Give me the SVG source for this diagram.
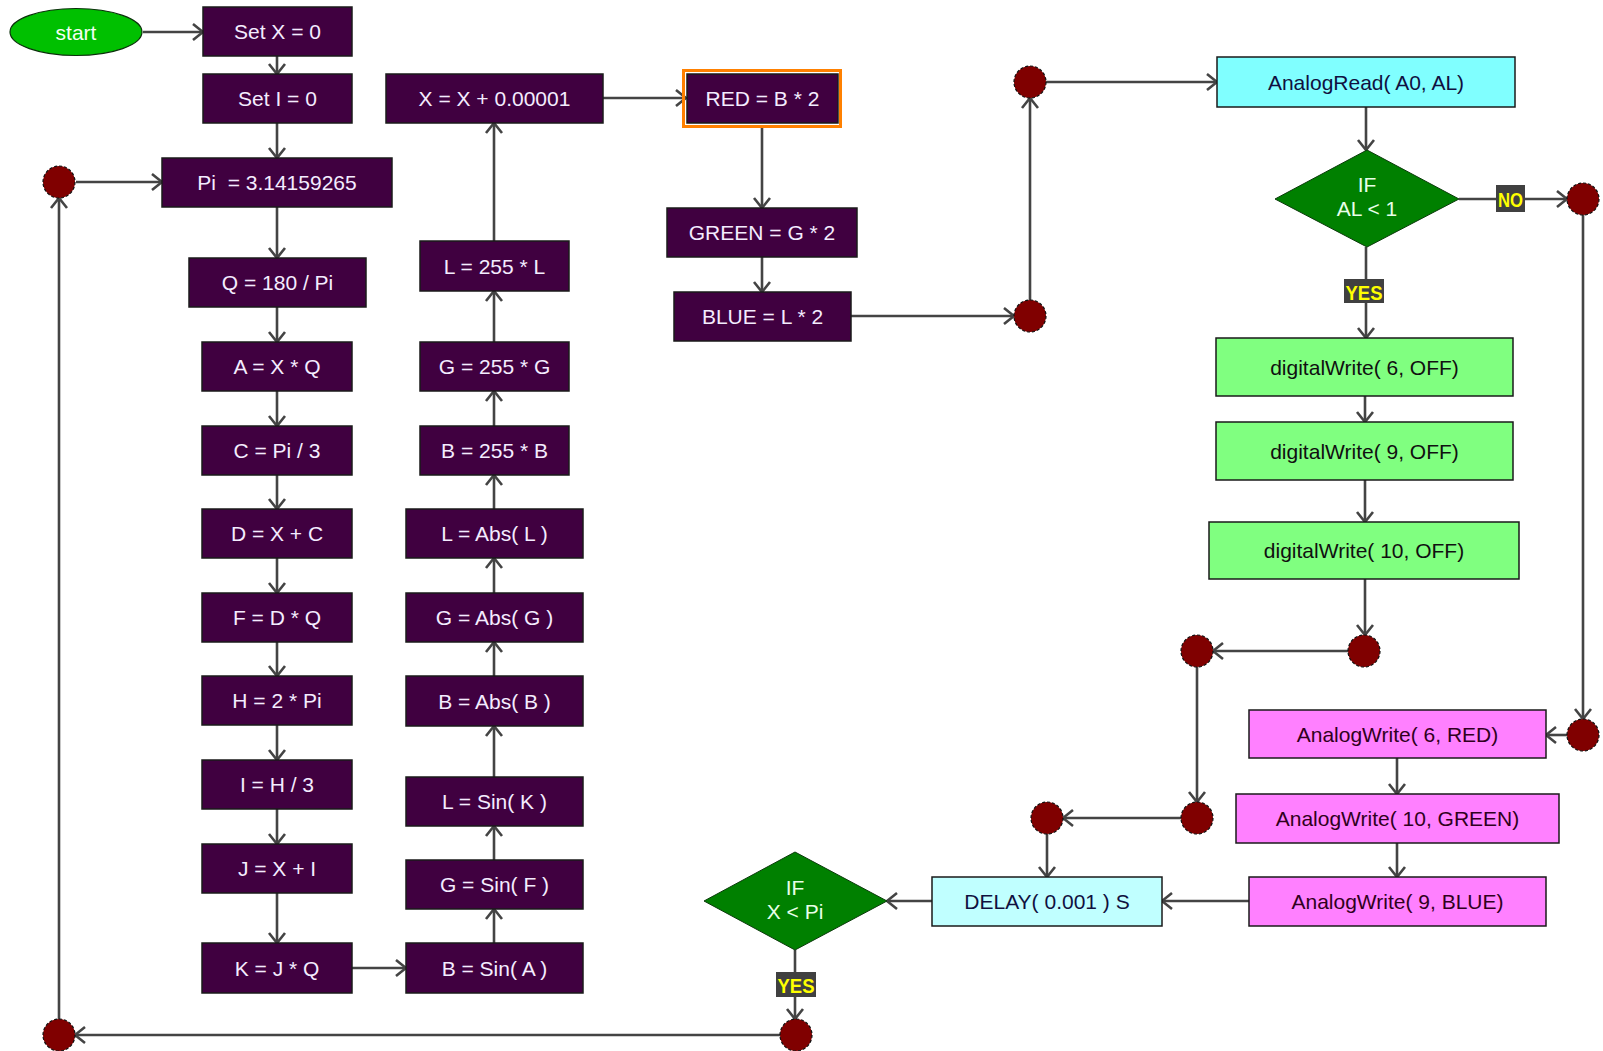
<svg xmlns="http://www.w3.org/2000/svg" width="1603" height="1051" viewBox="0 0 1603 1051">
<style>
text{font-family:"Liberation Sans",Arial,sans-serif;font-size:21px;text-anchor:middle;white-space:pre}
.p rect{fill:#400040;stroke:#1a1a1a;stroke-width:1.5}
.p text{fill:#f4ecff}
.cy rect{fill:#80ffff;stroke:#1a1a1a;stroke-width:1.5}
.cy text{fill:#101040}
.dl rect{fill:#c0ffff;stroke:#1a1a1a;stroke-width:1.5}
.dl text{fill:#101040}
.gr rect{fill:#80ff80;stroke:#1a1a1a;stroke-width:1.5}
.gr text{fill:#101010}
.mg rect{fill:#ff80ff;stroke:#1a1a1a;stroke-width:1.5}
.mg text{fill:#300020}
.dm polygon{fill:#008000;stroke:#0a3a0a;stroke-width:1}
.dm text{fill:#e8ffe8}
.jn{fill:#800000;stroke:#111;stroke-width:1.2;stroke-dasharray:3 2}
.cn path{fill:none;stroke:#444;stroke-width:2.6}
.lb rect{fill:#404040}
.lb text{fill:#ffff00;font-weight:bold;font-size:20px}
</style>
<defs>
<marker id="ah" markerUnits="userSpaceOnUse" viewBox="-12 -10 14 20" refX="0" refY="0" markerWidth="14" markerHeight="20" orient="auto">
<path d="M-10,-8 L0,0 L-10,8" fill="none" stroke="#444" stroke-width="2.6"/>
</marker>
</defs>

<g id="connectors" class="cn">
<path d="M143,32 H203" marker-end="url(#ah)"/>
<path d="M277,56 V74" marker-end="url(#ah)"/>
<path d="M277,123 V158" marker-end="url(#ah)"/>
<path d="M76,182 H162" marker-end="url(#ah)"/>
<path d="M277,207 V258" marker-end="url(#ah)"/>
<path d="M277,307 V342" marker-end="url(#ah)"/>
<path d="M277,391 V426" marker-end="url(#ah)"/>
<path d="M277,475 V509" marker-end="url(#ah)"/>
<path d="M277,558 V593" marker-end="url(#ah)"/>
<path d="M277,642 V676" marker-end="url(#ah)"/>
<path d="M277,725 V760" marker-end="url(#ah)"/>
<path d="M277,809 V844" marker-end="url(#ah)"/>
<path d="M277,893 V943" marker-end="url(#ah)"/>
<path d="M352,968 H406" marker-end="url(#ah)"/>
<path d="M494,943 V909" marker-end="url(#ah)"/>
<path d="M494,860 V826" marker-end="url(#ah)"/>
<path d="M494,777 V726" marker-end="url(#ah)"/>
<path d="M494,676 V642" marker-end="url(#ah)"/>
<path d="M494,593 V558" marker-end="url(#ah)"/>
<path d="M494,509 V475" marker-end="url(#ah)"/>
<path d="M494,426 V391" marker-end="url(#ah)"/>
<path d="M494,342 V291" marker-end="url(#ah)"/>
<path d="M494,241 V123" marker-end="url(#ah)"/>
<path d="M603,98 H686" marker-end="url(#ah)"/>
<path d="M762,128 V208" marker-end="url(#ah)"/>
<path d="M762,257 V292" marker-end="url(#ah)"/>
<path d="M851,316 H1014" marker-end="url(#ah)"/>
<path d="M1030,300 V98" marker-end="url(#ah)"/>
<path d="M1046,82 H1217" marker-end="url(#ah)"/>
<path d="M1366,107 V150" marker-end="url(#ah)"/>
<path d="M1459,199 H1567" marker-end="url(#ah)"/>
<path d="M1366,247 V338" marker-end="url(#ah)"/>
<path d="M1365,396 V422" marker-end="url(#ah)"/>
<path d="M1365,480 V522" marker-end="url(#ah)"/>
<path d="M1365,579 V635" marker-end="url(#ah)"/>
<path d="M1348,651 H1213" marker-end="url(#ah)"/>
<path d="M1197,667 V802" marker-end="url(#ah)"/>
<path d="M1583,215 V719" marker-end="url(#ah)"/>
<path d="M1567,735 H1546" marker-end="url(#ah)"/>
<path d="M1397,758 V794" marker-end="url(#ah)"/>
<path d="M1397,843 V877" marker-end="url(#ah)"/>
<path d="M1249,901 H1162" marker-end="url(#ah)"/>
<path d="M1181,818 H1063" marker-end="url(#ah)"/>
<path d="M1047,834 V877" marker-end="url(#ah)"/>
<path d="M932,901 H887" marker-end="url(#ah)"/>
<path d="M795,950 V1019" marker-end="url(#ah)"/>
<path d="M780,1035 H75" marker-end="url(#ah)"/>
<path d="M59,1019 V198" marker-end="url(#ah)"/>
</g>

<g id="labels" class="lb">
<g id="lbl-no1"><rect x="1496" y="185" width="29" height="27"/><text x="1510.5" y="206.5" textLength="25" lengthAdjust="spacingAndGlyphs">NO</text></g>
<g id="lbl-yes1"><rect x="1344" y="279" width="40" height="24"/><text x="1364" y="299.5" textLength="37" lengthAdjust="spacingAndGlyphs">YES</text></g>
<g id="lbl-yes2"><rect x="776" y="972" width="40" height="25"/><text x="796" y="993" textLength="37" lengthAdjust="spacingAndGlyphs">YES</text></g>
</g>

<g id="start"><ellipse cx="76" cy="32" rx="66" ry="23.5" fill="#00c000" stroke="#0a300a" stroke-width="1.2"/><text x="76" y="39.5" fill="#f4fff4">start</text></g>

<g id="setx" class="p"><rect x="203" y="7" width="149" height="49"/><text x="277.5" y="39">Set X = 0</text></g>
<g id="seti" class="p"><rect x="203" y="74" width="149" height="49"/><text x="277.5" y="106">Set I = 0</text></g>
<g id="pi" class="p"><rect x="162" y="158" width="230" height="49"/><text x="277" y="190">Pi  = 3.14159265</text></g>
<g id="q" class="p"><rect x="189" y="258" width="177" height="49"/><text x="277.5" y="290">Q = 180 / Pi</text></g>
<g id="a" class="p"><rect x="202" y="342" width="150" height="49"/><text x="277" y="374">A = X * Q</text></g>
<g id="c" class="p"><rect x="202" y="426" width="150" height="49"/><text x="277" y="458">C = Pi / 3</text></g>
<g id="d" class="p"><rect x="202" y="509" width="150" height="49"/><text x="277" y="541">D = X + C</text></g>
<g id="f" class="p"><rect x="202" y="593" width="150" height="49"/><text x="277" y="625">F = D * Q</text></g>
<g id="h" class="p"><rect x="202" y="676" width="150" height="49"/><text x="277" y="708">H = 2 * Pi</text></g>
<g id="i" class="p"><rect x="202" y="760" width="150" height="49"/><text x="277" y="792">I = H / 3</text></g>
<g id="j" class="p"><rect x="202" y="844" width="150" height="49"/><text x="277" y="876">J = X + I</text></g>
<g id="k" class="p"><rect x="202" y="943" width="150" height="50"/><text x="277" y="975.5">K = J * Q</text></g>

<g id="xinc" class="p"><rect x="386" y="74" width="217" height="49"/><text x="494.5" y="106">X = X + 0.00001</text></g>
<g id="l255" class="p"><rect x="420" y="241" width="149" height="50"/><text x="494.5" y="273.5">L = 255 * L</text></g>
<g id="g255" class="p"><rect x="420" y="342" width="149" height="49"/><text x="494.5" y="374">G = 255 * G</text></g>
<g id="b255" class="p"><rect x="420" y="426" width="149" height="49"/><text x="494.5" y="458">B = 255 * B</text></g>
<g id="labs" class="p"><rect x="406" y="509" width="177" height="49"/><text x="494.5" y="541">L = Abs( L )</text></g>
<g id="gabs" class="p"><rect x="406" y="593" width="177" height="49"/><text x="494.5" y="625">G = Abs( G )</text></g>
<g id="babs" class="p"><rect x="406" y="676" width="177" height="50"/><text x="494.5" y="708.5">B = Abs( B )</text></g>
<g id="lsin" class="p"><rect x="406" y="777" width="177" height="49"/><text x="494.5" y="809">L = Sin( K )</text></g>
<g id="gsin" class="p"><rect x="406" y="860" width="177" height="49"/><text x="494.5" y="892">G = Sin( F )</text></g>
<g id="bsin" class="p"><rect x="406" y="943" width="177" height="50"/><text x="494.5" y="975.5">B = Sin( A )</text></g>

<g id="red" class="p"><rect x="683.5" y="70.5" width="157" height="56" style="fill:none;stroke:#ff8000;stroke-width:3"/><rect x="687" y="74" width="151" height="49"/><text x="762.5" y="106">RED = B * 2</text></g>
<g id="green" class="p"><rect x="667" y="208" width="190" height="49"/><text x="762" y="240">GREEN = G * 2</text></g>
<g id="blue" class="p"><rect x="674" y="292" width="177" height="49"/><text x="762.5" y="324">BLUE = L * 2</text></g>

<g id="analogread" class="cy"><rect x="1217" y="57" width="298" height="50"/><text x="1366" y="89.5">AnalogRead( A0, AL)</text></g>
<g id="if-al" class="dm"><polygon points="1367,150 1459,199 1367,247 1275,199"/><text x="1367" y="192">IF</text><text x="1367" y="216">AL &lt; 1</text></g>
<g id="dw6" class="gr"><rect x="1216" y="338" width="297" height="58"/><text x="1364.5" y="374.5">digitalWrite( 6, OFF)</text></g>
<g id="dw9" class="gr"><rect x="1216" y="422" width="297" height="58"/><text x="1364.5" y="458.5">digitalWrite( 9, OFF)</text></g>
<g id="dw10" class="gr"><rect x="1209" y="522" width="310" height="57"/><text x="1364" y="558">digitalWrite( 10, OFF)</text></g>
<g id="aw6" class="mg"><rect x="1249" y="710" width="297" height="48"/><text x="1397.5" y="741.5">AnalogWrite( 6, RED)</text></g>
<g id="aw10" class="mg"><rect x="1236" y="794" width="323" height="49"/><text x="1397.5" y="826">AnalogWrite( 10, GREEN)</text></g>
<g id="aw9" class="mg"><rect x="1249" y="877" width="297" height="49"/><text x="1397.5" y="909">AnalogWrite( 9, BLUE)</text></g>
<g id="delay" class="dl"><rect x="932" y="877" width="230" height="49"/><text x="1047" y="909">DELAY( 0.001 ) S</text></g>
<g id="if-x" class="dm"><polygon points="795,852 887,901 795,950 704,901"/><text x="795" y="895">IF</text><text x="795" y="919">X &lt; Pi</text></g>

<g id="junctions">
<circle id="j1" class="jn" cx="59" cy="182" r="16"/>
<circle id="j2" class="jn" cx="59" cy="1035" r="16"/>
<circle id="j3" class="jn" cx="796" cy="1035" r="16"/>
<circle id="j4" class="jn" cx="1030" cy="316" r="16"/>
<circle id="j5" class="jn" cx="1030" cy="82" r="16"/>
<circle id="j6" class="jn" cx="1583" cy="199" r="16"/>
<circle id="j7" class="jn" cx="1583" cy="735" r="16"/>
<circle id="j8" class="jn" cx="1364" cy="651" r="16"/>
<circle id="j9" class="jn" cx="1197" cy="651" r="16"/>
<circle id="j10" class="jn" cx="1197" cy="818" r="16"/>
<circle id="j11" class="jn" cx="1047" cy="818" r="16"/>
</g>
</svg>
